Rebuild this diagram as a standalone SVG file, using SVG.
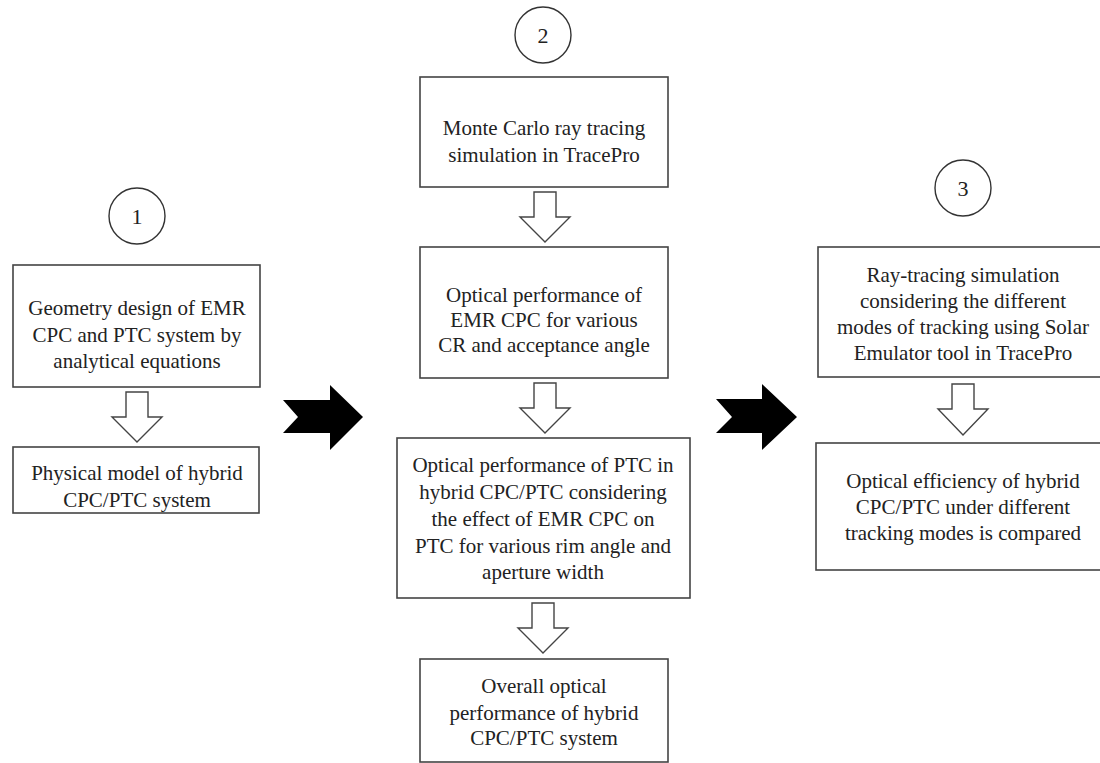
<svg xmlns="http://www.w3.org/2000/svg" width="1100" height="763" viewBox="0 0 1100 763">
<style>
.box{fill:#fff;stroke:#444;stroke-width:1.6}
.circ{fill:#fff;stroke:#333;stroke-width:1.4}
.harrow{fill:#fff;stroke:#444;stroke-width:1.4;stroke-linejoin:miter}
.barrow{fill:#000;stroke:none}
text{font-family:"Liberation Serif","Times New Roman",serif;font-size:21px;fill:#222;text-anchor:middle}
.num{font-size:22px}
</style>
<rect width="1100" height="763" fill="#fff"/>
<g id="step1">
<circle class="circ" cx="137" cy="216" r="28"/>
<text class="num" x="137" y="224">1</text>
</g>
<g id="step2">
<circle class="circ" cx="543" cy="35" r="28"/>
<text class="num" x="543" y="43">2</text>
</g>
<g id="step3">
<circle class="circ" cx="963" cy="188" r="28"/>
<text class="num" x="963" y="196">3</text>
</g>
<g id="n1a">
<rect class="box" x="13" y="265" width="247" height="122"/>
<text x="137" y="315">Geometry design of EMR</text>
<text x="137" y="342">CPC and PTC system by</text>
<text x="137" y="368">analytical equations</text>
</g>
<g id="n1b">
<rect class="box" x="13" y="447" width="246" height="66"/>
<text x="137" y="480">Physical model of hybrid</text>
<text x="137" y="507">CPC/PTC system</text>
</g>
<g id="n2a">
<rect class="box" x="420" y="77" width="248" height="110"/>
<text x="544" y="135">Monte Carlo ray tracing</text>
<text x="544" y="162">simulation in TracePro</text>
</g>
<g id="n2b">
<rect class="box" x="420" y="247" width="248" height="131"/>
<text x="544" y="302">Optical performance of</text>
<text x="544" y="327">EMR CPC for various</text>
<text x="544" y="352">CR and acceptance angle</text>
</g>
<g id="n2c">
<rect class="box" x="397" y="438" width="293" height="160"/>
<text x="543" y="472">Optical performance of PTC in</text>
<text x="543" y="499">hybrid CPC/PTC considering</text>
<text x="543" y="526">the effect of EMR CPC on</text>
<text x="543" y="553">PTC for various rim angle and</text>
<text x="543" y="579">aperture width</text>
</g>
<g id="n2d">
<rect class="box" x="420" y="659" width="248" height="103"/>
<text x="544" y="693">Overall optical</text>
<text x="544" y="720">performance of hybrid</text>
<text x="544" y="745">CPC/PTC system</text>
</g>
<g id="n3a">
<rect class="box" x="818" y="247" width="292" height="130"/>
<text x="963" y="282">Ray-tracing simulation</text>
<text x="963" y="308">considering the different</text>
<text x="963" y="334">modes of tracking using Solar</text>
<text x="963" y="360">Emulator tool in TracePro</text>
</g>
<g id="n3b">
<rect class="box" x="816" y="443" width="294" height="127"/>
<text x="963" y="488">Optical efficiency of hybrid</text>
<text x="963" y="514">CPC/PTC under different</text>
<text x="963" y="540">tracking modes is compared</text>
</g>
<g id="connectors">
<polygon class="harrow" points="126,392 148,392 148,417 162,417 137,442 112,417 126,417"/>
<polygon class="harrow" points="534,192 556,192 556,217 570,217 545,242 520,217 534,217"/>
<polygon class="harrow" points="534,383 556,383 556,408 570,408 545,433 520,408 534,408"/>
<polygon class="harrow" points="532,603 554,603 554,628 568,628 543,653 518,628 532,628"/>
<polygon class="harrow" points="952,384 974,384 974,409 988,409 963,435 938,409 952,409"/>
<polygon class="barrow" points="283,400 330,400 330,385 363,417 330,450 330,433 283,433 298,417"/>
<polygon class="barrow" points="716,399 762,399 762,384 797,417 762,450 762,433 716,433 732,417"/>
</g>
</svg>
